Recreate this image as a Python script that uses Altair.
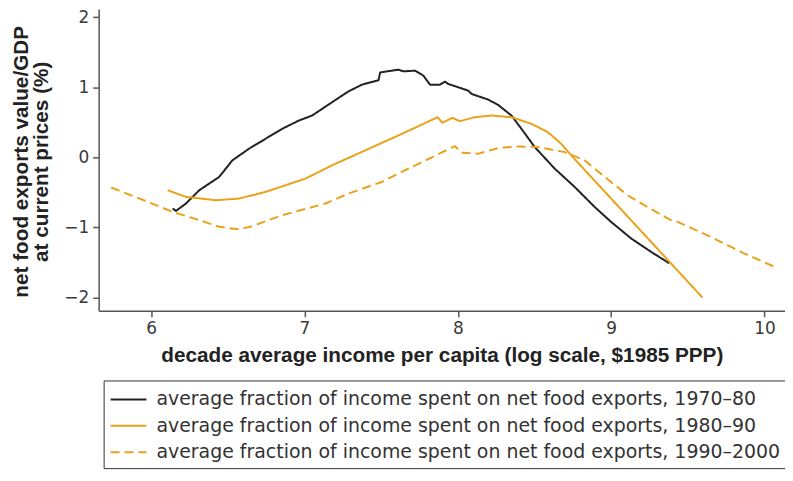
import altair as alt
import pandas as pd

series_names = [
    "average fraction of income spent on net food exports, 1970–80",
    "average fraction of income spent on net food exports, 1980–90",
    "average fraction of income spent on net food exports, 1990–2000",
]
series_colors = ["#222222", "#e9a21a", "#e9a21a"]
series_dashes = [[1, 0], [1, 0], [9, 5]]

# 1970-80 (black)
x70 = [6.141, 6.162, 6.227, 6.314, 6.444, 6.53, 6.639, 6.747, 6.855, 6.964, 7.05, 7.18,
       7.288, 7.375, 7.472, 7.483, 7.494, 7.613, 7.646, 7.722, 7.776, 7.819, 7.884, 7.917,
       7.938, 8.068, 8.09, 8.198, 8.263, 8.35, 8.415, 8.502, 8.632, 8.762, 8.892, 8.999,
       9.13, 9.259, 9.379]
y70 = [-0.73, -0.764, -0.66, -0.469, -0.28, -0.043, 0.124, 0.266, 0.408, 0.526, 0.597, 0.787,
       0.943, 1.038, 1.095, 1.10, 1.213, 1.252, 1.228, 1.238, 1.166, 1.038, 1.038, 1.081,
       1.048, 0.953, 0.906, 0.825, 0.75, 0.597, 0.408, 0.147, -0.161, -0.422, -0.707, -0.92,
       -1.157, -1.347, -1.512]

# 1980-90 (orange solid)
x80 = [6.108, 6.227, 6.422, 6.574, 6.747, 6.877, 7.007, 7.18, 7.397, 7.613, 7.869, 7.899,
       7.964, 8.014, 8.112, 8.22, 8.35, 8.48, 8.588, 8.674, 8.74, 9.595]
y80 = [-0.469, -0.564, -0.612, -0.588, -0.493, -0.398, -0.303, -0.114, 0.1, 0.313, 0.574, 0.493,
       0.564, 0.517, 0.574, 0.597, 0.574, 0.479, 0.36, 0.195, 0.028, -2.0]

# 1990-2000 (orange dashed)
x90 = [5.74, 5.924, 6.14, 6.314, 6.444, 6.574, 6.66, 6.855, 7.137, 7.288, 7.505, 7.613, 7.7,
       7.982, 8.025, 8.133, 8.263, 8.393, 8.523, 8.697, 8.827, 8.999, 9.107, 9.216, 9.389,
       9.433, 9.649, 9.779, 9.866, 10.072]
y90 = [-0.431, -0.588, -0.778, -0.896, -0.991, -1.029, -0.982, -0.825, -0.659, -0.516, -0.351,
       -0.232, -0.138, 0.161, 0.067, 0.053, 0.132, 0.156, 0.147, 0.075, -0.043, -0.351, -0.54,
       -0.683, -0.896, -0.92, -1.134, -1.276, -1.37, -1.569]

x_ticks = [6, 7, 8, 9, 10]
y_ticks = [-2, -1, 0, 1, 2]

rows = []
for name, xs, ys in zip(series_names, [x70, x80, x90], [y70, y80, y90]):
    for i, (a, b) in enumerate(zip(xs, ys)):
        rows.append({"series": name, "x": a, "y": b, "i": i})
df = pd.DataFrame(rows)

legend = alt.Legend(
    title=None,
    orient="none",
    legendX=5,
    legendY=373,
    strokeColor="#333333",
    padding=6,
    symbolType="M-1,0H2",
    symbolSize=576,
    symbolStrokeWidth=2,
    labelFont="DejaVu Sans",
    labelFontSize=19,
    labelColor="#333333",
    labelOffset=21,
    labelLimit=800,
    rowPadding=3.5,
)

chart = (
    alt.Chart(df)
    .mark_line(strokeWidth=2, strokeJoin="round")
    .encode(
        x=alt.X(
            "x:Q",
            scale=alt.Scale(domain=[5.658, 10.134], nice=False, zero=False),
            axis=alt.Axis(
                values=x_ticks,
                format="d",
                title="decade average income per capita (log scale, $1985 PPP)",
                titleY=51,
                titleBaseline="alphabetic",
            ),
        ),
        y=alt.Y(
            "y:Q",
            scale=alt.Scale(domain=[-2.19, 2.12], nice=False, zero=False),
            axis=alt.Axis(
                values=y_ticks,
                format="d",
                title=["net food exports value/GDP", "at current prices (%)"],
                titleX=-87,
                titleY=153,
                titleAngle=270,
                titleAlign="center",
                titleBaseline="top",
                titleLineHeight=20,
            ),
        ),
        color=alt.Color(
            "series:N",
            scale=alt.Scale(domain=series_names, range=series_colors),
            legend=legend,
        ),
        strokeDash=alt.StrokeDash(
            "series:N",
            scale=alt.Scale(domain=series_names, range=series_dashes),
            legend=legend,
        ),
        order=alt.Order("i:Q"),
    )
    .properties(
        width=689,
        height=303,
        autosize=alt.AutoSizeParams(type="none"),
        padding={"left": 91, "top": 0, "right": 0, "bottom": 162},
    )
    .configure_view(stroke=None)
    .configure_axis(
        grid=False,
        domainColor="#555555",
        domainWidth=1.5,
        tickColor="#555555",
        tickWidth=1.5,
        tickSize=6,
        labelFont="DejaVu Sans",
        labelFontSize=17,
        labelColor="#3a3a3a",
        labelPadding=4,
        titleFont="Liberation Sans",
        titleFontSize=20.8,
        titleFontWeight="bold",
        titleColor="#222222",
    )
)

chart.save("out.html", embed_options={"renderer": "svg", "actions": False})
